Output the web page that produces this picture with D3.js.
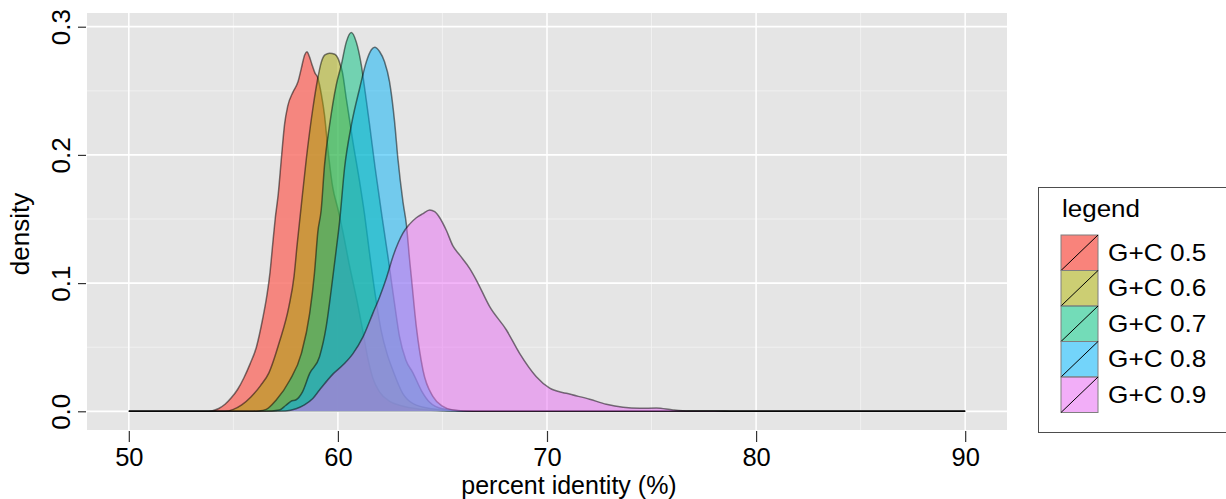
<!DOCTYPE html>
<html>
<head>
<meta charset="utf-8">
<script src="https://cdn.jsdelivr.net/npm/d3@7"></script>
<style>
  html, body { margin: 0; padding: 0; background: #ffffff; }
  svg { display: block; font-family: "Liberation Sans", Arial, Helvetica, sans-serif; }
</style>
</head>
<body>
<svg id="chart" width="1226" height="499"></svg>
<script>
// ---------- data ----------
const categories = ["G+C 0.5", "G+C 0.6", "G+C 0.7", "G+C 0.8", "G+C 0.9"];
const fillColors = ["#F8766D", "#A3A500", "#00BF7D", "#00B0F6", "#E76BF3"];
const fillOpacities = [0.85, 0.5, 0.5, 0.5, 0.5];

const gc05X = [50, 53.6, 54.0, 54.3, 54.6, 54.9, 55.2, 55.5, 55.8, 56.1, 56.4, 56.6, 56.75, 56.88, 57.0, 57.15, 57.3, 57.45, 57.6, 57.85, 58.09, 58.25, 58.41, 58.52, 58.63, 58.75, 58.9, 59.04, 59.2, 59.36, 59.52, 59.75, 60.0, 60.24, 60.55, 60.88, 61.2, 61.45, 61.67, 62.0, 62.5, 63.0, 64.0, 65.0, 66.0, 90];
const gc05Y = [0, 0, 0.0005, 0.0022, 0.0055, 0.0105, 0.017, 0.026, 0.037, 0.05, 0.072, 0.09, 0.108, 0.13, 0.15, 0.17, 0.198, 0.224, 0.238, 0.249, 0.257, 0.2675, 0.278, 0.2805, 0.277, 0.271, 0.264, 0.26, 0.248, 0.231, 0.205, 0.175, 0.158, 0.14, 0.114, 0.089, 0.062, 0.04, 0.026, 0.015, 0.0075, 0.0045, 0.0015, 0.0003, 0, 0];

const gc06X = [50, 54.6, 55.0, 55.4, 55.85, 56.3, 56.7, 57.2, 57.66, 57.9, 58.05, 58.2, 58.49, 58.8, 59.04, 59.2, 59.38, 59.6, 59.85, 60.0, 60.1, 60.21, 60.4, 60.72, 61.04, 61.28, 61.5, 61.75, 62.07, 62.35, 62.63, 63.1, 63.6, 64.5, 66.0, 90];
const gc06Y = [0, 0, 0.0015, 0.005, 0.0114, 0.02, 0.03, 0.054, 0.082, 0.105, 0.13, 0.153, 0.197, 0.236, 0.26, 0.272, 0.278, 0.2793, 0.2785, 0.2755, 0.271, 0.265, 0.244, 0.21, 0.179, 0.153, 0.125, 0.095, 0.063, 0.045, 0.032, 0.014, 0.006, 0.002, 0, 0];

const gc07X = [50, 55.8, 56.2, 56.57, 57.05, 57.69, 58.25, 58.65, 58.88, 59.04, 59.2, 59.36, 59.6, 59.92, 60.16, 60.4, 60.64, 60.88, 61.12, 61.28, 61.52, 61.78, 62.1, 62.4, 62.7, 62.95, 63.25, 63.59, 64.0, 64.39, 65.0, 66.5, 90];
const gc07Y = [0, 0, 0.0003, 0.0015, 0.0088, 0.024, 0.045, 0.0764, 0.108, 0.14, 0.157, 0.192, 0.223, 0.2545, 0.27, 0.288, 0.2955, 0.288, 0.27, 0.252, 0.223, 0.19, 0.153, 0.12, 0.085, 0.058, 0.04, 0.03, 0.016, 0.007, 0.002, 0, 0];

const gc08X = [50, 56.5, 57.2, 57.5, 57.75, 58.0, 58.3, 58.65, 59.12, 59.44, 59.68, 59.92, 60.08, 60.32, 60.64, 61.04, 61.36, 61.6, 61.76, 62.0, 62.23, 62.47, 62.71, 62.87, 63.11, 63.28, 63.43, 63.51, 63.75, 64.07, 64.55, 65.0, 65.5, 66.5, 90];
const gc08Y = [0, 0, 0.001, 0.0045, 0.0078, 0.009, 0.015, 0.0296, 0.0426, 0.066, 0.0946, 0.126, 0.148, 0.19, 0.223, 0.252, 0.2727, 0.282, 0.284, 0.2805, 0.2727, 0.257, 0.226, 0.197, 0.1635, 0.145, 0.118, 0.105, 0.066, 0.032, 0.0114, 0.004, 0.001, 0, 0];

const gc09X = [50, 56.5, 57.5, 58.0, 58.4, 58.8, 59.12, 59.76, 60.3, 60.72, 61.2, 61.67, 62.0, 62.32, 62.63, 62.9, 63.11, 63.43, 63.75, 64.05, 64.39, 64.63, 64.87, 65.19, 65.5, 65.82, 66.3, 66.62, 67.26, 68.06, 68.69, 69.49, 70.13, 70.93, 72.04, 72.84, 73.64, 74.44, 75.23, 76.03, 76.8, 78.0, 79.0, 90];
const gc09Y = [0, 0, 0.0003, 0.002, 0.005, 0.01, 0.0166, 0.029, 0.037, 0.045, 0.058, 0.0764, 0.0894, 0.104, 0.1206, 0.132, 0.139, 0.146, 0.151, 0.154, 0.157, 0.1557, 0.151, 0.141, 0.129, 0.122, 0.1115, 0.1024, 0.0816, 0.0634, 0.0452, 0.027, 0.018, 0.014, 0.0094, 0.0055, 0.0031, 0.0023, 0.0026, 0.001, 0.0002, 0.0003, 0, 0];

const seriesX = [gc05X, gc06X, gc07X, gc08X, gc09X];
const seriesY = [gc05Y, gc06Y, gc07Y, gc08Y, gc09Y];

const xTicks = [50, 60, 70, 80, 90];
const xMinorTicks = [55, 65, 75, 85];
const yTicks = [0, 0.1, 0.2, 0.3];
const yMinorTicks = [0.05, 0.15, 0.25];
const xTitle = "percent identity (%)";
const yTitle = "density";
const legendTitle = "legend";

// ---------- layout ----------
const svg = d3.select("#chart");
const panel = { left: 87, right: 1007, top: 13, bottom: 430 };

const x = d3.scaleLinear().domain([48, 92]).range([panel.left, panel.right]);
const y = d3.scaleLinear().domain([-0.0146, 0.3107]).range([panel.bottom, panel.top]);

// panel background
svg.append("rect")
  .attr("x", panel.left).attr("y", panel.top)
  .attr("width", panel.right - panel.left).attr("height", panel.bottom - panel.top)
  .attr("fill", "#E5E5E5");

const grid = svg.append("g");
grid.selectAll(".vminor").data(xMinorTicks).join("line")
  .attr("x1", d => x(d)).attr("x2", d => x(d))
  .attr("y1", panel.top).attr("y2", panel.bottom)
  .attr("stroke", "#F2F2F2").attr("stroke-width", 0.9);
grid.selectAll(".hminor").data(yMinorTicks).join("line")
  .attr("x1", panel.left).attr("x2", panel.right)
  .attr("y1", d => y(d)).attr("y2", d => y(d))
  .attr("stroke", "#F2F2F2").attr("stroke-width", 0.9);
grid.selectAll(".vmajor").data(xTicks).join("line")
  .attr("x1", d => x(d)).attr("x2", d => x(d))
  .attr("y1", panel.top).attr("y2", panel.bottom)
  .attr("stroke", "#FFFFFF").attr("stroke-width", 1.5);
grid.selectAll(".hmajor").data(yTicks).join("line")
  .attr("x1", panel.left).attr("x2", panel.right)
  .attr("y1", d => y(d)).attr("y2", d => y(d))
  .attr("stroke", "#FFFFFF").attr("stroke-width", 1.8);

// densities
const area = d3.area()
  .x(d => x(d[0])).y0(y(0)).y1(d => y(d[1]))
  .curve(d3.curveMonotoneX);
const line = d3.line()
  .x(d => x(d[0])).y(d => y(d[1]))
  .curve(d3.curveMonotoneX);

const dens = svg.append("g");
categories.forEach((c, i) => {
  const pts = seriesX[i].map((v, k) => [v, seriesY[i][k]]);
  dens.append("path").datum(pts)
    .attr("d", area)
    .attr("fill", fillColors[i]).attr("fill-opacity", fillOpacities[i]);
  dens.append("path").datum(pts)
    .attr("d", line)
    .attr("fill", "none")
    .attr("stroke", "#000").attr("stroke-opacity", 0.5)
    .attr("stroke-width", 1.5);
});

// axes
const xAxis = svg.append("g")
  .attr("transform", `translate(0,${panel.bottom + 1})`)
  .call(d3.axisBottom(x).tickValues(xTicks).tickFormat(d3.format("d")).tickSize(11).tickPadding(6));
xAxis.select(".domain").remove();
xAxis.selectAll("line").attr("stroke", "#333").attr("stroke-width", 1.2);
xAxis.selectAll("text").attr("font-size", 25.5).attr("fill", "#000")
  .attr("font-family", "Liberation Sans, Arial, sans-serif");

const yAxis = svg.append("g")
  .attr("transform", `translate(${panel.left - 1},0)`)
  .call(d3.axisLeft(y).tickValues(yTicks).tickFormat(d3.format(".1f")).tickSize(8));
yAxis.select(".domain").remove();
yAxis.selectAll("line").attr("stroke", "#333").attr("stroke-width", 1.2);
yAxis.selectAll("text")
  .attr("x", null).attr("dy", null)
  .attr("transform", "translate(-16,0) rotate(-90)")
  .attr("text-anchor", "middle")
  .attr("font-size", 26).attr("fill", "#000")
  .attr("font-family", "Liberation Sans, Arial, sans-serif");

// titles
svg.append("text")
  .attr("x", 569).attr("y", 494)
  .attr("text-anchor", "middle").attr("font-size", 25).attr("fill", "#000")
  .text(xTitle);
svg.append("text")
  .attr("transform", "translate(29,234) rotate(-90)")
  .attr("text-anchor", "middle").attr("font-size", 26).attr("fill", "#000")
  .text(yTitle);

// legend
const leg = svg.append("g");
leg.append("rect")
  .attr("x", 1038.5).attr("y", 187.5).attr("width", 220).attr("height", 245)
  .attr("fill", "#fff").attr("stroke", "#4d4d4d").attr("stroke-width", 1);
leg.append("text")
  .attr("transform", "translate(1062,217) scale(1.13,1)")
  .attr("font-size", 23).attr("fill", "#000")
  .text(legendTitle);

const keyX = 1061, keyY = 235, keyW = 37, keyH = 35.5;
const rows = leg.selectAll(".row").data(categories).join("g")
  .attr("transform", (d, i) => `translate(${keyX},${keyY + i * keyH})`);
rows.append("rect")
  .attr("width", keyW).attr("height", keyH)
  .attr("fill", (d, i) => fillColors[i]).attr("fill-opacity", (d, i) => fillOpacities[i] + 0.05)
  .attr("stroke", "#7f7f7f").attr("stroke-width", 1);
rows.append("line")
  .attr("x1", 0).attr("y1", keyH).attr("x2", keyW).attr("y2", 0)
  .attr("stroke", "#000").attr("stroke-width", 1);
rows.append("text")
  .attr("transform", `translate(${1108 - keyX},${keyH / 2 + 8}) scale(1.14,1)`)
  .attr("font-size", 23).attr("fill", "#000")
  .text(d => d);
</script>
</body>
</html>
